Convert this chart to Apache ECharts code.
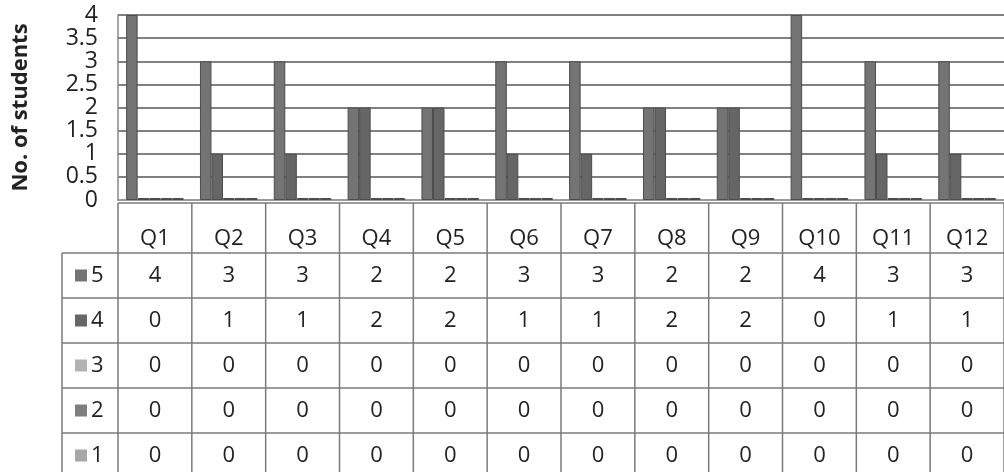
<!DOCTYPE html>
<html>
<head>
<meta charset="utf-8">
<script src="https://cdn.jsdelivr.net/npm/echarts@6/dist/echarts.min.js"></script>
<style>
  html, body { margin: 0; padding: 0; background: #fff; }
  #chart { width: 1004px; height: 472px; }
</style>
</head>
<body>
<div id="chart"></div>
<script>
  // data
  var questions = ['Q1', 'Q2', 'Q3', 'Q4', 'Q5', 'Q6', 'Q7', 'Q8', 'Q9', 'Q10', 'Q11', 'Q12'];
  var ratings = ['5', '4', '3', '2', '1'];
  var rating5 = [4, 3, 3, 2, 2, 3, 3, 2, 2, 4, 3, 3];
  var rating4 = [0, 1, 1, 2, 2, 1, 1, 2, 2, 0, 1, 1];
  var rating3 = [0, 0, 0, 0, 0, 0, 0, 0, 0, 0, 0, 0];
  var rating2 = [0, 0, 0, 0, 0, 0, 0, 0, 0, 0, 0, 0];
  var rating1 = [0, 0, 0, 0, 0, 0, 0, 0, 0, 0, 0, 0];
  var ratingColors = ['#747474', '#666666', '#b2b2b2', '#7e7e7e', '#a6a6a6'];

  var rows = [rating5, rating4, rating3, rating2, rating1];
  var font = '"Open Sans", "Liberation Sans", sans-serif';
  var lineColor = '#7a7a7a';

  var chart = echarts.init(document.getElementById('chart'), null, { renderer: 'canvas' });

  chart.setOption({
    animation: false,
    backgroundColor: '#fff',
    grid: { left: 118, right: -7, top: 15, bottom: 272 },
    xAxis: {
      type: 'category',
      data: questions,
      axisLabel: { show: false },
      axisTick: { show: false },
      axisLine: { show: true, lineStyle: { color: '#9a9a9a', width: 2 } }
    },
    yAxis: {
      type: 'value',
      min: 0,
      max: 4,
      interval: 0.5,
      name: 'No. of students',
      nameLocation: 'middle',
      nameRotate: 90,
      nameGap: 86,
      nameTextStyle: { fontFamily: font, fontWeight: 'bold', fontSize: 22, color: '#222' },
      axisLabel: { fontFamily: font, fontSize: 23, color: '#222', margin: 20, lineHeight: 20 },
      axisLine: { show: true, lineStyle: { color: '#8a8a8a', width: 1.5 } },
      axisTick: { show: false },
      splitLine: { lineStyle: { color: '#808080', width: 1.8 } }
    },
    series: rows.map(function (vals, i) {
      return {
        name: ratings[i],
        type: 'bar',
        data: vals,
        barGap: '0%',
        barCategoryGap: '22%',
        barMinHeight: 2,
        itemStyle: { color: ratingColors[i], borderColor: '#4c4c4c', borderWidth: 1 }
      };
    })
  });

  // data table under the plot, placed on the category axis
  function buildTable() {
    var c0 = chart.convertToPixel({ xAxisIndex: 0 }, 'Q1');
    var c1 = chart.convertToPixel({ xAxisIndex: 0 }, 'Q2');
    var step = c1 - c0;
    var left = c0 - step / 2;
    var right = left + step * questions.length;
    var top = chart.convertToPixel({ yAxisIndex: 0 }, 0) + 3;
    var headH = 50, rowH = 45;
    var legendLeft = 62;
    var bottom = 480;
    var els = [];
    var ls = { stroke: lineColor, lineWidth: 1.5 };
    var txt = '22px ' + font;

    els.push({ type: 'line', shape: { x1: left, y1: top, x2: right, y2: top }, style: ls });
    for (var r = 0; r <= rows.length; r++) {
      var y = top + headH + r * rowH;
      els.push({ type: 'line', shape: { x1: legendLeft, y1: y, x2: right, y2: y }, style: ls });
    }
    for (var k = 0; k <= questions.length; k++) {
      var x = left + k * step;
      els.push({ type: 'line', shape: { x1: x, y1: top, x2: x, y2: bottom }, style: ls });
    }
    els.push({ type: 'line', shape: { x1: legendLeft, y1: top + headH, x2: legendLeft, y2: bottom }, style: ls });

    questions.forEach(function (q, k) {
      els.push({
        type: 'text',
        x: left + (k + 0.5) * step, y: top + headH - 14,
        style: { text: q, font: txt, fill: '#222', align: 'center', verticalAlign: 'middle' }
      });
    });

    rows.forEach(function (vals, r) {
      var cy = top + headH + (r + 0.5) * rowH;
      els.push({
        type: 'rect',
        shape: { x: legendLeft + 13, y: cy - 6, width: 12, height: 12 },
        style: { fill: ratingColors[r] }
      });
      els.push({
        type: 'text',
        x: legendLeft + 29, y: cy,
        style: { text: ratings[r], font: txt, fill: '#222', align: 'left', verticalAlign: 'middle' }
      });
      vals.forEach(function (v, k) {
        els.push({
          type: 'text',
          x: left + (k + 0.5) * step, y: cy,
          style: { text: String(v), font: txt, fill: '#222', align: 'center', verticalAlign: 'middle' }
        });
      });
    });

    chart.setOption({ graphic: { elements: els } });
  }

  buildTable();
</script>
</body>
</html>
